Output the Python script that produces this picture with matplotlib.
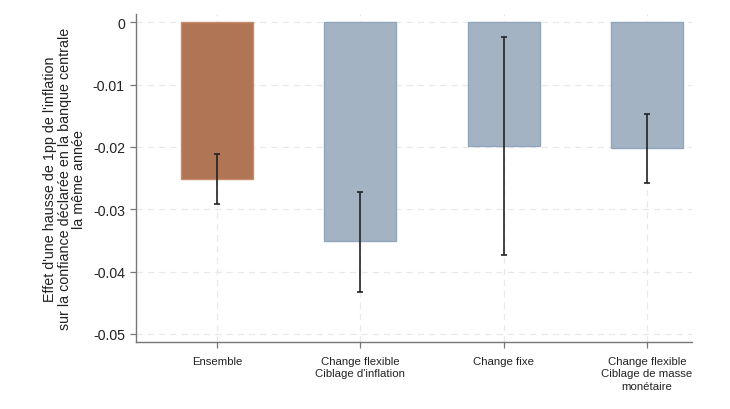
import matplotlib
matplotlib.use("Agg")
import matplotlib.pyplot as plt

categories = ["Ensemble", "Change flexible\nCiblage d'inflation", "Change fixe",
              "Change flexible\nCiblage de masse\nmonétaire"]
values = [-0.0251, -0.0351, -0.0198, -0.0202]
ci_low = [-0.0292, -0.0433, -0.0374, -0.0258]
ci_high = [-0.0211, -0.0273, -0.0024, -0.0147]
yticks = [0, -0.01, -0.02, -0.03, -0.04, -0.05]
ytick_labels = ["0", "-0.01", "-0.02", "-0.03", "-0.04", "-0.05"]
ylabel = "Effet d'une hausse de 1pp de l'inflation\nsur la confiance déclarée en la banque centrale\nla même année"

plt.rcParams['font.family'] = ['Liberation Sans', 'DejaVu Sans']

fig = plt.figure(figsize=(7.30, 4.10), dpi=100)
ax = fig.add_axes([0.1863, 0.1634, 0.948 - 0.1863, 0.9634 - 0.1634])

x = list(range(1, len(categories) + 1))
fills = ["#b07555"] + ["#a3b3c4"] * 3
edges = ["#c88b6c"] + ["#91a6bb"] * 3
ax.bar(x, values, width=0.5, color=fills, edgecolor=edges, linewidth=1.0, zorder=2)

lower = [v - l for v, l in zip(values, ci_low)]
upper = [h - v for v, h in zip(values, ci_high)]
ax.errorbar(x, values, yerr=[lower, upper], fmt='none', ecolor='#222222',
            elinewidth=1.2, capsize=2.5, capthick=1.2, zorder=3)

ax.set_xlim(0.435, 4.314)
ax.set_ylim(-0.0513, 0.00133)
ax.set_yticks(yticks)
ax.set_yticklabels(ytick_labels, fontsize=10.2, color='#222222')
ax.set_xticks(x)
ax.set_xticklabels(categories, fontsize=8.2, color='#222222', linespacing=1.3)

ax.grid(True, axis='both', linestyle=(0, (5, 4)), color='#e8e8e8', linewidth=0.9, zorder=0)
ax.set_axisbelow(True)

for s in ['top', 'right']:
    ax.spines[s].set_visible(False)
for s in ['left', 'bottom']:
    ax.spines[s].set_color('#777777')
    ax.spines[s].set_linewidth(1.0)
ax.tick_params(axis='both', direction='out', length=4, color='#777777', width=0.9)
ax.tick_params(axis='x', pad=6)
ax.tick_params(axis='y', pad=4)

ax.set_ylabel(ylabel, fontsize=10.3, color='#222222', linespacing=1.02, labelpad=5)

fig.savefig("out.png", dpi=100)
